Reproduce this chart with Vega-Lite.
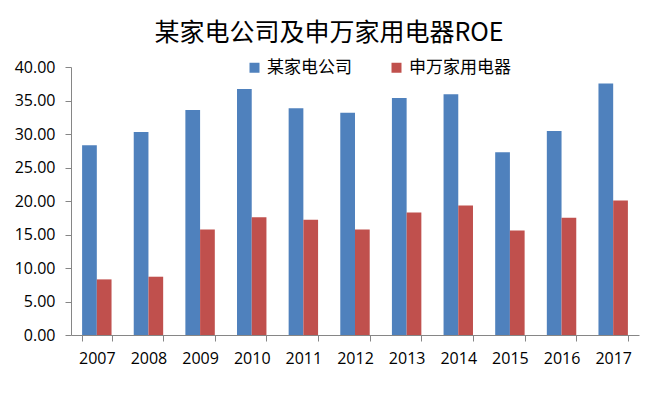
{
  "$schema": "https://vega.github.io/schema/vega-lite/v6.json",
  "autosize": {"type": "none"},
  "width": 568,
  "height": 268,
  "padding": {"left": 71, "top": 67, "right": 21, "bottom": 62},
  "background": "white",
  "title": {
    "text": "某家电公司及申万家用电器ROE",
    "font": "Noto Sans CJK SC",
    "fontSize": 25,
    "fontWeight": "normal",
    "color": "#000000",
    "anchor": "middle",
    "dx": -26,
    "offset": 13
  },
  "data": {
    "values": [
      {"year": "2007", "series": "某家电公司", "value": 28.32},
      {"year": "2007", "series": "申万家用电器", "value": 8.30},
      {"year": "2008", "series": "某家电公司", "value": 30.31},
      {"year": "2008", "series": "申万家用电器", "value": 8.70},
      {"year": "2009", "series": "某家电公司", "value": 33.59},
      {"year": "2009", "series": "申万家用电器", "value": 15.75},
      {"year": "2010", "series": "某家电公司", "value": 36.72},
      {"year": "2010", "series": "申万家用电器", "value": 17.59},
      {"year": "2011", "series": "某家电公司", "value": 33.84},
      {"year": "2011", "series": "申万家用电器", "value": 17.19},
      {"year": "2012", "series": "某家电公司", "value": 33.19},
      {"year": "2012", "series": "申万家用电器", "value": 15.75},
      {"year": "2013", "series": "某家电公司", "value": 35.38},
      {"year": "2013", "series": "申万家用电器", "value": 18.29},
      {"year": "2014", "series": "某家电公司", "value": 35.93},
      {"year": "2014", "series": "申万家用电器", "value": 19.33},
      {"year": "2015", "series": "某家电公司", "value": 27.28},
      {"year": "2015", "series": "申万家用电器", "value": 15.60},
      {"year": "2016", "series": "某家电公司", "value": 30.46},
      {"year": "2016", "series": "申万家用电器", "value": 17.49},
      {"year": "2017", "series": "某家电公司", "value": 37.52},
      {"year": "2017", "series": "申万家用电器", "value": 20.07}
    ]
  },
  "mark": {"type": "bar"},
  "encoding": {
    "x": {
      "field": "year",
      "type": "nominal",
      "title": null,
      "scale": {"paddingInner": 0.43, "paddingOuter": 0.215},
      "axis": {
        "labelAngle": 0,
        "labelFont": "Open Sans",
        "labelFontSize": 16,
        "labelColor": "#000000",
        "labelPadding": 9,
        "tickBand": "extent",
        "tickSize": 6,
        "tickColor": "#868686",
        "domainColor": "#868686"
      }
    },
    "xOffset": {
      "field": "series",
      "type": "nominal",
      "scale": {"domain": ["某家电公司", "申万家用电器"], "paddingInner": 0, "paddingOuter": 0}
    },
    "y": {
      "field": "value",
      "type": "quantitative",
      "title": null,
      "scale": {"domain": [0, 40], "nice": false},
      "axis": {
        "values": [0, 5, 10, 15, 20, 25, 30, 35, 40],
        "format": ".2f",
        "grid": false,
        "labelFont": "Open Sans",
        "labelFontSize": 16,
        "labelColor": "#000000",
        "labelPadding": 10,
        "tickSize": 6,
        "tickColor": "#868686",
        "domainColor": "#868686"
      }
    },
    "color": {
      "field": "series",
      "type": "nominal",
      "title": null,
      "scale": {"domain": ["某家电公司", "申万家用电器"], "range": ["#4F81BD", "#C0504D"]},
      "legend": {
        "orient": "none",
        "legendX": 175,
        "legendY": -8,
        "direction": "horizontal",
        "symbolType": "square",
        "symbolSize": 100,
        "symbolStrokeWidth": 0,
        "labelFont": "Noto Sans CJK SC",
        "labelFontSize": 17,
        "labelColor": "#000000",
        "labelOffset": 4,
        "columnPadding": 36
      }
    }
  },
  "config": {
    "view": {"stroke": null}
  }
}
